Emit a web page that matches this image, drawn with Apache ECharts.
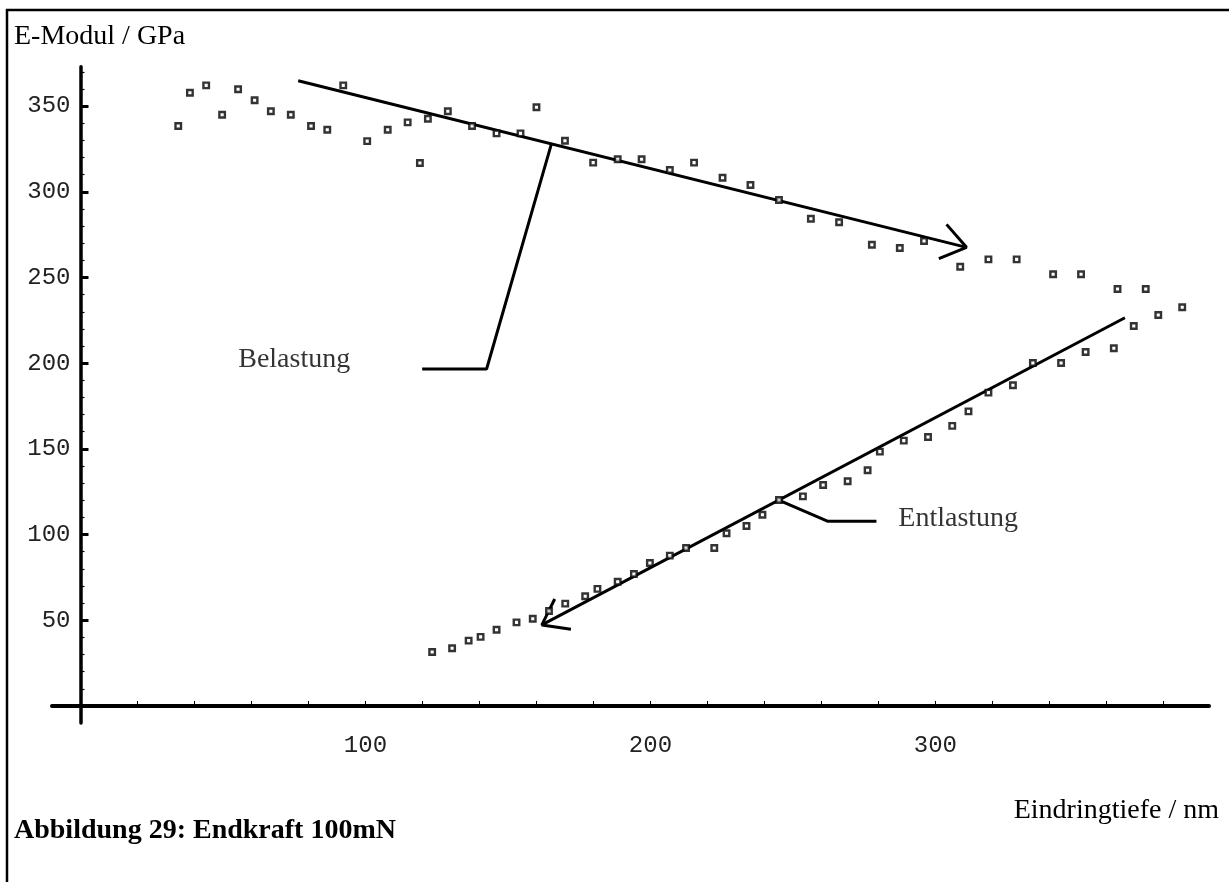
<!DOCTYPE html>
<html>
<head>
<meta charset="utf-8">
<script src="https://cdn.jsdelivr.net/npm/echarts@6/dist/echarts.min.js"></script>
<style>
  html, body { margin: 0; padding: 0; background: #fff; }
  #chart { width: 1229px; height: 882px; }
</style>
</head>
<body>
<div id="chart"></div>
<script>
// Belastung (loading) - depth in nm, modulus in GPa
var loadDepth = [34.3, 38.4, 44.1, 49.7, 55.3, 61.1, 66.8, 73.8, 80.9, 86.6, 92.2, 100.6, 107.8, 114.8, 119.1, 121.9, 128.9, 137.4, 146.0, 154.4, 160.0, 170.0, 179.9, 188.5, 196.9, 206.8, 215.3, 225.3, 235.1, 245.1, 256.3, 266.2, 277.7, 287.5, 296.0, 308.7, 318.6, 328.5, 341.3, 351.1, 363.9, 373.8];
var loadModulus = [338.4, 357.8, 362.1, 345.0, 359.8, 353.4, 347.0, 345.0, 338.4, 336.2, 362.1, 329.6, 336.2, 340.5, 316.8, 342.6, 347.0, 338.4, 334.1, 334.1, 349.3, 329.8, 317.0, 319.0, 319.0, 312.7, 317.0, 308.2, 304.0, 295.2, 284.3, 282.2, 269.1, 267.2, 271.3, 256.3, 260.6, 260.6, 251.9, 251.9, 243.3, 243.3];

// Entlastung (unloading)
var unloadDepth = [123.4, 130.4, 136.2, 140.4, 146.0, 153.0, 158.7, 164.4, 170.1, 177.1, 181.4, 188.5, 194.2, 199.8, 206.8, 212.5, 222.4, 226.7, 233.7, 239.3, 245.1, 253.5, 260.6, 269.2, 276.2, 280.5, 288.9, 297.4, 305.9, 311.6, 318.6, 327.2, 334.2, 344.1, 352.7, 362.6, 369.6, 378.2, 386.6];
var unloadModulus = [31.5, 33.7, 38.1, 40.3, 44.5, 48.8, 50.9, 55.4, 59.7, 64.0, 68.3, 72.5, 77.0, 83.4, 87.7, 92.2, 92.2, 100.8, 105.0, 111.6, 120.2, 122.3, 128.9, 131.1, 137.5, 148.4, 154.8, 156.9, 163.4, 171.9, 182.8, 187.1, 200.1, 200.1, 206.5, 208.7, 221.7, 228.1, 232.6];

// hand drawn arrows and leader lines (data units)
var loadArrow = [[76.4, 364.8], [310.9, 267.6]];
var loadArrowHead = [[303.9, 281.0], [310.9, 267.6], [301.2, 261.0]];
var loadLeader = [[165.2, 327.7], [142.5, 196.6], [119.9, 196.6]];
var unloadArrow = [[366.5, 226.5], [161.9, 47.3]];
var unloadArrowHead = [[166.4, 62.4], [161.9, 47.3], [172.1, 44.7]];
var unloadLeader = [[244.8, 120.2], [262.1, 107.8], [279.3, 107.8]];

var noteText = ['Belastung', 'Entlastung'];
var noteDepth = [75.0, 308.0];
var noteModulus = [201.9, 109.1];

// ticks and labels
var xLabelValues = [100, 200, 300];
var xTickValues = [20, 40, 60, 80, 100, 120, 140, 160, 180, 200, 220, 240, 260, 280, 300, 320, 340, 360, 380];
var yLabelValues = [50, 100, 150, 200, 250, 300, 350];
var yMinorTicks = [10, 20, 30, 40, 60, 70, 80, 90, 110, 120, 130, 140, 160, 170, 180, 190, 210, 220, 230, 240, 260, 270, 280, 290, 310, 320, 330, 340, 360, 370];

var serif = 'Liberation Serif';
var mono = 'Liberation Mono';

var xMin = -10, xMax = 396;
var gridLeft = 52, gridWidth = 1157;
// the labelled y axis sits at depth 0, not at the grid edge
var yZeroShift = -gridWidth * (0 - xMin) / (xMax - xMin);

var myChart = echarts.init(document.getElementById('chart'));

function pairs(xs, ys) {
  return xs.map(function (x, i) { return [x, ys[i]]; });
}

function annoLine(points) {
  return {
    type: 'line',
    data: points,
    symbol: 'none',
    silent: true,
    lineStyle: {color: '#000', width: 3},
    z: 3
  };
}

var pointStyle = {color: '#fff', borderColor: '#000', borderWidth: 2.4};

var option = {
  animation: false,
  backgroundColor: '#fff',
  title: [
    {text: 'E-Modul / GPa', left: 9, top: 18,
      textStyle: {fontFamily: serif, fontSize: 28, fontWeight: 'normal', color: '#000'}},
    {text: 'Eindringtiefe / nm', right: 5, top: 792,
      textStyle: {fontFamily: serif, fontSize: 28, fontWeight: 'normal', color: '#000'}},
    {text: 'Abbildung 29: Endkraft 100mN', left: 9, top: 812,
      textStyle: {fontFamily: serif, fontSize: 28, fontWeight: 'bold', color: '#000'}}
  ],
  grid: {left: gridLeft, top: 66.7, width: gridWidth, height: 656.4},
  xAxis: [{
    type: 'value', min: xMin, max: xMax,
    axisLine: {onZero: true, lineStyle: {color: '#000', width: 4}},
    axisTick: {inside: true, length: 5, customValues: xTickValues, lineStyle: {color: '#000', width: 1}},
    axisLabel: {customValues: xLabelValues, margin: 11, fontFamily: mono, fontSize: 24, color: '#222'},
    splitLine: {show: false}
  }],
  yAxis: [{
    type: 'value', min: -10, max: 373,
    axisLine: {onZero: true, lineStyle: {color: '#000', width: 3.5}},
    axisTick: {inside: true, length: 4, customValues: yMinorTicks, lineStyle: {color: '#000', width: 1.2}},
    axisLabel: {show: false},
    splitLine: {show: false}
  }, {
    type: 'value', min: -10, max: 373, position: 'left', offset: yZeroShift,
    axisLine: {show: false, onZero: false},
    axisTick: {inside: true, length: 8, customValues: yLabelValues, lineStyle: {color: '#000', width: 3}},
    axisLabel: {customValues: yLabelValues, margin: 10, fontFamily: mono, fontSize: 24, color: '#222'},
    splitLine: {show: false}
  }],
  series: [
    {name: 'Belastung', type: 'scatter', data: pairs(loadDepth, loadModulus),
      symbol: 'rect', symbolSize: 5.5, itemStyle: pointStyle, z: 4},
    {name: 'Entlastung', type: 'scatter', data: pairs(unloadDepth, unloadModulus),
      symbol: 'rect', symbolSize: 5.5, itemStyle: pointStyle, z: 4},
    annoLine(loadArrow),
    annoLine(loadArrowHead),
    annoLine(loadLeader),
    annoLine(unloadArrow),
    annoLine(unloadArrowHead),
    annoLine(unloadLeader),
    {
      type: 'scatter',
      silent: true,
      symbolSize: 1,
      itemStyle: {color: 'transparent'},
      data: noteText.map(function (t, i) { return {name: t, value: [noteDepth[i], noteModulus[i]]}; }),
      label: {show: true, position: 'inside', formatter: '{b}',
        fontFamily: serif, fontSize: 28, color: '#000'}
    }
  ],
  graphic: [
    {type: 'line', shape: {x1: 7, y1: 9, x2: 7, y2: 882}, style: {stroke: '#000', lineWidth: 2.5}},
    {type: 'line', shape: {x1: 6, y1: 10, x2: 1229, y2: 10}, style: {stroke: '#000', lineWidth: 2.5}}
  ]
};

myChart.setOption(option);
</script>
</body>
</html>
